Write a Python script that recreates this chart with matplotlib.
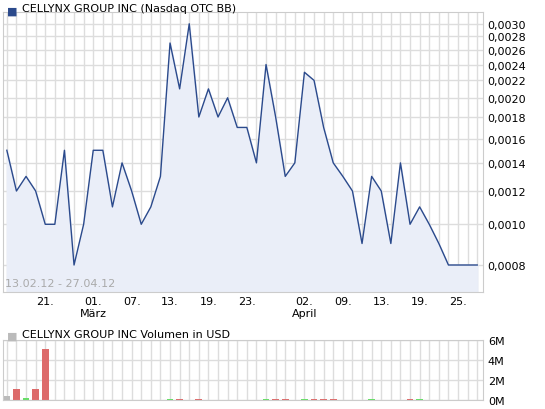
import matplotlib.pyplot as plt
import matplotlib.ticker as mticker

preis = [0.0015, 0.0012, 0.0013, 0.0012, 0.0010, 0.0010, 0.0015, 0.0008, 0.0010, 0.0015,
         0.0015, 0.0011, 0.0014, 0.0012, 0.0010, 0.0011, 0.0013, 0.0027, 0.0021, 0.0030,
         0.0018, 0.0021, 0.0018, 0.0020, 0.0017, 0.0017, 0.0014, 0.0024, 0.0018, 0.0013,
         0.0014, 0.0023, 0.0022, 0.0017, 0.0014, 0.0013, 0.0012, 0.0009, 0.0013, 0.0012,
         0.0009, 0.0014, 0.0010, 0.0011, 0.0010, 0.0009, 0.0008, 0.0008, 0.0008, 0.0008]
x = list(range(len(preis)))

# volumen in mio USD, farbe je tag
vol_idx = [0, 1, 2, 3, 4, 17, 18, 20, 27, 28, 29, 31, 32, 33, 34, 38, 42, 43]
vol_wert = [0.4, 1.1, 0.2, 1.1, 5.1, 0.07, 0.07, 0.07, 0.07, 0.07, 0.07, 0.07, 0.07, 0.07, 0.07, 0.07, 0.07, 0.07]
vol_farbe = ["g", "r", "gr", "r", "r", "gr", "r", "r", "gr", "r", "r", "gr", "r", "r", "r", "gr", "r", "gr"]

tick_pos = [4, 9, 13, 17, 21, 25, 31, 35, 39, 43, 47]
tick_lab = ["21.", "01.\nMärz", "07.", "13.", "19.", "23.", "02.\nApril", "09.", "13.", "19.", "25."]
y_ticks = [0.0008, 0.0010, 0.0012, 0.0014, 0.0016, 0.0018, 0.0020, 0.0022, 0.0024, 0.0026, 0.0028, 0.0030]

farben = {"r": "#dd6b6b", "gr": "#66dd66", "g": "#bbbbbb"}
grid_c = "#dddddd"

fig = plt.figure(figsize=(5.45, 4.10), dpi=100)
ax = fig.add_axes([3/545, 117/410, 480/545, 280/410])
ax.plot(x, preis, color="#2b4a8c", lw=1)
ax.fill_between(x, preis, 0.0005, color="#eaeef8")
ax.set_yscale("log")
ax.set_ylim(0.00069, 0.0032)
ax.set_xlim(-0.4, 49.6)
ax.yaxis.tick_right()
ax.set_yticks(y_ticks)
ax.yaxis.set_major_formatter(mticker.FuncFormatter(lambda v, p: f"{v:.4f}".replace(".", ",")))
ax.yaxis.set_minor_locator(mticker.NullLocator())
ax.set_xticks(x, minor=True)
ax.set_xticks(tick_pos)
ax.set_xticklabels(tick_lab)
ax.grid(True, which="both", color=grid_c, lw=1)
ax.set_axisbelow(True)
ax.tick_params(which="both", length=0, labelsize=8, pad=3)
for s in ax.spines.values():
    s.set_color("#cccccc")
ax.text(0.005, 0.02, "13.02.12 - 27.04.12", transform=ax.transAxes, color="#aaaaaa", fontsize=8)
fig.text(0.012, 0.985, "■", color="#2b4a8c", fontsize=8, va="top")
fig.text(0.04, 0.99, "CELLYNX GROUP INC (Nasdaq OTC BB)", fontsize=8, va="top")

ax2 = fig.add_axes([3/545, 9/410, 480/545, 60/410])
ax2.bar(vol_idx, vol_wert, width=0.7, color=[farben[f] for f in vol_farbe])
ax2.set_xlim(-0.4, 49.6)
ax2.set_ylim(0, 6)
ax2.yaxis.tick_right()
ax2.set_yticks([0, 2, 4, 6])
ax2.set_yticklabels(["0M", "2M", "4M", "6M"])
ax2.set_xticks(x)
ax2.set_xticklabels([])
ax2.grid(True, color=grid_c, lw=1)
ax2.set_axisbelow(True)
ax2.tick_params(length=0, labelsize=8)
for s in ax2.spines.values():
    s.set_color("#cccccc")
fig.text(0.012, 0.19, "■", color="#bbbbbb", fontsize=8, va="top")
fig.text(0.04, 0.195, "CELLYNX GROUP INC Volumen in USD", fontsize=8, va="top")

fig.savefig("out.png")
